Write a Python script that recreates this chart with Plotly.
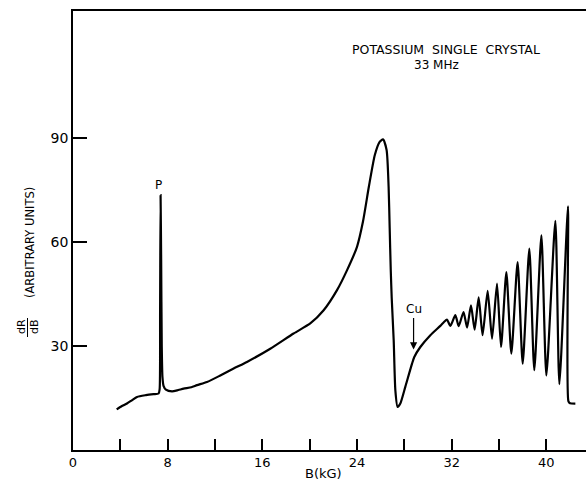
import plotly.graph_objects as go

# Field B (kG) and signal dR/dB (arbitrary units)
B = [3.69, 4.1, 4.56, 5.0, 5.41, 6.1, 6.81, 7.23, 7.32, 7.36, 7.40, 7.45, 7.50, 7.56, 7.65, 7.85,
     8.37, 8.9, 9.35, 10.0, 10.48, 11.32, 12.45, 13.57, 14.7, 16.67, 18.64, 20.05, 21.18, 22.31,
     23.15, 24.0, 24.5, 25.0, 25.5, 25.9, 26.2, 26.5, 26.67, 26.76, 26.85, 26.93, 27.1, 27.24,
     27.43, 27.66, 28.08, 28.65, 28.84, 29.35, 30.2, 31.04, 31.35, 31.6, 31.89, 32.31, 32.59,
     33.0, 33.3, 33.63, 33.94, 34.28, 34.61, 35.04, 35.41, 35.83, 36.17, 36.62, 37.04, 37.57,
     38.0, 38.56, 38.98, 39.58, 40.0, 40.76, 41.1, 41.83, 41.86, 42.0, 42.45]
V = [11.7, 12.6, 13.4, 14.4, 15.3, 15.8, 16.1, 16.3, 17.5, 40.0, 73.5, 55.0, 30.0, 21.0, 18.5, 17.4,
     16.9, 17.3, 17.7, 18.1, 18.7, 19.6, 21.5, 23.5, 25.4, 29.2, 33.6, 36.5, 40.3, 46.1,
     51.8, 58.6, 65.8, 75.9, 85.0, 88.8, 89.6, 86.5, 75.9, 64.0, 52.0, 44.0, 31.6, 17.2,
     12.4, 13.4, 18.2, 24.9, 26.8, 29.7, 33.1, 35.8, 36.9, 37.6, 35.8, 38.9, 35.7,
     39.8, 35.3, 41.7, 34.7, 44.0, 33.1, 45.9, 32.1, 48.0, 29.7, 51.3, 27.8, 54.2,
     24.9, 58.1, 23.0, 61.9, 21.5, 66.1, 19.0, 70.3, 14.1, 13.5, 13.4]

x_tickvals = [0, 4, 8, 12, 16, 20, 24, 28, 32, 36, 40]
x_ticktext = ["0", "", "8", "", "16", "", "24", "", "32", "", "40"]
y_tickvals = [30, 60, 90]
y_ticktext = ["30", "60", "90"]

FONT = "DejaVu Sans"

fig = go.Figure()
fig.add_trace(go.Scatter(x=B, y=V, mode="lines",
                         line=dict(color="black", width=2.2, shape="spline", smoothing=0.6),
                         hoverinfo="skip", showlegend=False))

L, T, Bm = 73, 11, 40
W, H = 586, 490
PW, PH = W - L, H - T - Bm

def px(xp):
    return (xp - L) / PW

def py(yp):
    return (H - Bm - yp) / PH

fig.update_layout(
    width=W, height=H,
    margin=dict(l=L, r=0, t=T, b=Bm, autoexpand=False),
    paper_bgcolor="white", plot_bgcolor="white",
    font=dict(family=FONT, color="black"),
    xaxis=dict(range=[0, 43.35], showgrid=False, zeroline=False, showline=True,
               linecolor="black", linewidth=1.5, mirror=True,
               ticks="inside", ticklen=11, tickwidth=1.5, tickcolor="black",
               tickvals=x_tickvals, ticktext=x_ticktext,
               tickfont=dict(size=13, family=FONT), automargin=False),
    yaxis=dict(range=[0, 126.6], showgrid=False, zeroline=False, showline=True,
               linecolor="black", linewidth=1.5,
               ticks="inside", ticklen=14, tickwidth=1.5, tickcolor="black",
               tickvals=y_tickvals, ticktext=y_ticktext,
               tickfont=dict(size=14, family=FONT), automargin=False),
)

def lab(xp, yp, text, size, angle=0):
    return dict(x=px(xp), y=py(yp), xref="paper", yref="paper", text=text,
                showarrow=False, xanchor="center", yanchor="middle",
                textangle=angle, font=dict(size=size, family=FONT))

ann = [
    lab(445.5, 49, "POTASSIUM\u00a0\u00a0SINGLE\u00a0\u00a0CRYSTAL", 12.5),
    lab(436, 65, "33\u00a0MHz", 12),
    lab(158.5, 185, "P", 12),
    lab(323, 473, "B(kG)", 13),
    lab(30, 243, "(ARBITRARY\u00a0UNITS)", 11.5, -90),
    lab(21, 327, "dR", 11, -90),
    lab(34, 327, "dB", 11, -90),
    dict(x=28.78, y=29.0, xref="x", yref="y", text="Cu", showarrow=True,
         ax=0, ay=-40, arrowhead=2, arrowsize=1.2, arrowwidth=1.2, arrowcolor="black",
         font=dict(size=12, family=FONT)),
]
fig.update_layout(annotations=ann)
fig.add_shape(type="line", xref="paper", yref="paper",
              x0=px(27.5), x1=px(27.5), y0=py(318), y1=py(337),
              line=dict(color="black", width=1))

fig.write_html("out.html", config={"displayModeBar": False},
               post_script="document.body.style.margin='0px';document.body.style.overflow='hidden';")
